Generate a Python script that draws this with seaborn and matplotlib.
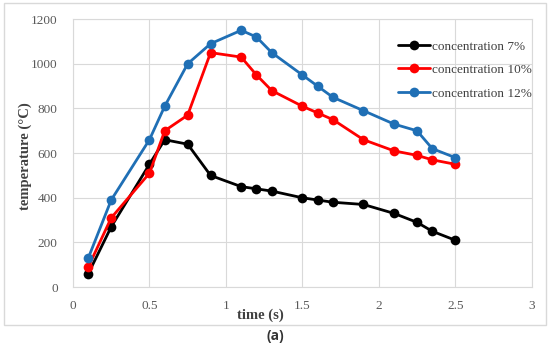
import matplotlib
matplotlib.use("Agg")
import matplotlib.pyplot as plt
from matplotlib.patches import Rectangle
import pandas as pd
import seaborn as sns

time_s = [0.1, 0.25, 0.5, 0.6, 0.75, 0.9, 1.1, 1.2, 1.3, 1.5, 1.6, 1.7, 1.9, 2.1, 2.25, 2.35, 2.5]
temp_7 = [60, 270, 550, 660, 640, 500, 450, 440, 430, 400, 390, 380, 370, 330, 290, 250, 210]
temp_10 = [90, 310, 510, 700, 770, 1050, 1030, 950, 880, 810, 780, 750, 660, 610, 590, 570, 550]
temp_12 = [130, 390, 660, 810, 1000, 1090, 1150, 1120, 1050, 950, 900, 850, 790, 730, 700, 620, 580]
labels = ["concentration 7%", "concentration 10%", "concentration 12%"]
colors = ["#000000", "#ff0000", "#1f6fb5"]

df = pd.concat([
    pd.DataFrame({"time": time_s, "temp": vals, "series": lab})
    for vals, lab in zip([temp_7, temp_10, temp_12], labels)
])

sns.set_style("whitegrid", {"grid.color": "#d9d9d9", "axes.edgecolor": "#d9d9d9"})
plt.rcParams["font.family"] = ["Liberation Serif", "DejaVu Serif"]

fig = plt.figure(figsize=(5.5, 3.48), dpi=100)
ax = fig.add_axes([0.1327, 0.175, 0.834, 0.77])

sns.lineplot(data=df, x="time", y="temp", hue="series", hue_order=labels,
             palette=colors, marker="o", markersize=7, markeredgewidth=0,
             linewidth=2, ax=ax)

ax.set_xlim(0, 3)
ax.set_ylim(0, 1200)
ax.set_xticks([0, 0.5, 1, 1.5, 2, 2.5, 3])
ax.set_xticklabels(["0", "0.5", "1", "1.5", "2", "2.5", "3"])
ax.set_yticks(range(0, 1201, 200))
ax.tick_params(labelsize=9.5, colors="#595959", length=0)
ax.tick_params(axis="x", pad=9)
ax.tick_params(axis="y", pad=11)
ax.set_xlabel("time (s)", fontsize=10.5, fontweight="bold", color="#404040")
ax.set_ylabel("temperature (\u00b0C)", fontsize=10.5, fontweight="bold", color="#404040")
ax.xaxis.set_label_coords(0.408, -0.08)
ax.yaxis.set_label_coords(-0.09, 0.49)
for s in ax.spines.values():
    s.set_color("#d9d9d9")

leg = ax.legend(loc="upper right", frameon=False, fontsize=9.5,
                bbox_to_anchor=(1.026, 0.965), handlelength=2.4, handletextpad=0.15,
                labelspacing=0.85)
for t in leg.get_texts():
    t.set_color("#404040")

fig.patches.append(Rectangle((0.008, 0.065), 0.984, 0.925, transform=fig.transFigure,
                             fill=False, edgecolor="#d9d9d9", linewidth=1))
fig.text(0.5, 0.035, "(a)", ha="center", va="center", fontsize=10,
         fontweight="bold", family="Open Sans", color="#333333")

fig.savefig("out.png", dpi=100)
